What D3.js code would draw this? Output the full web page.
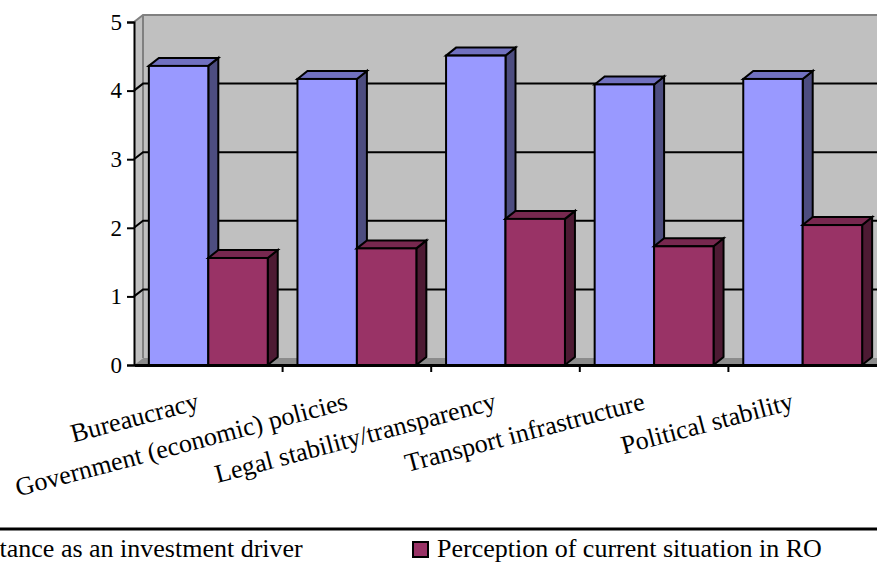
<!DOCTYPE html>
<html>
<head>
<meta charset="utf-8">
<script src="https://cdn.jsdelivr.net/npm/d3@7"></script>
<style>
  html, body { margin: 0; padding: 0; background: #fff; overflow: hidden; }
  svg { display: block; }
  text { font-family: "Liberation Serif", "Times New Roman", serif; fill: #000; }
</style>
</head>
<body>
<svg id="chart" width="877" height="569"></svg>
<script>
// Factors and their two scores
const categories = [
  "Bureaucracy",
  "Government (economic) policies",
  "Legal stability/transparency",
  "Transport infrastructure",
  "Political stability"
];
const seriesNames = [
  "Importance as an investment driver",
  "Perception of current situation in RO"
];
const importance = [4.36, 4.17, 4.51, 4.09, 4.17];
const perception = [1.56, 1.70, 2.13, 1.73, 2.04];
const yTicks = [0, 1, 2, 3, 4, 5];

// Face colours for each series: front, top, side
const palette = [
  { front: "#9999FF", top: "#7171C0", side: "#4D4D80" },
  { front: "#993366", top: "#77284F", side: "#4D1A33" }
];

const svg = d3.select("#chart");

// Plot frame
const plotLeft = 134, plotRight = 877, plotTop = 22, plotBottom = 365;
const wallDx = 9, wallDy = -7;     // depth of the walls
const barDx = 10, barDy = -8;      // depth of the bars

const y = d3.scaleLinear().domain([0, 5]).range([plotBottom, plotTop]);
const x = d3.scaleBand().domain(categories).range([plotLeft, plotRight]).padding(0);
const inner = d3.scaleBand().domain(seriesNames)
  .range([0, x.bandwidth()]).paddingInner(0).paddingOuter(0.25);

const wall = svg.append("g");

// side wall on the left
wall.append("polygon")
  .attr("points", [[plotLeft, plotBottom], [plotLeft, y(5)], [plotLeft + wallDx, y(5) + wallDy], [plotLeft + wallDx, plotBottom + wallDy]].join(" "))
  .attr("fill", "#C0C0C0");

// back wall
wall.append("rect")
  .attr("x", plotLeft + wallDx).attr("y", y(5) + wallDy)
  .attr("width", plotRight - plotLeft).attr("height", plotBottom - y(5))
  .attr("fill", "#C0C0C0");

// floor
wall.append("polygon")
  .attr("points", [[plotLeft, plotBottom], [plotLeft + wallDx, plotBottom + wallDy], [plotRight + 20, plotBottom + wallDy], [plotRight + 20, plotBottom]].join(" "))
  .attr("fill", "#8C8C8C");

// wall edges
wall.append("polyline")
  .attr("points", [[plotLeft, y(5)], [plotLeft + wallDx, y(5) + wallDy], [plotRight + 20, y(5) + wallDy]].join(" "))
  .attr("fill", "none").attr("stroke", "#808080").attr("stroke-width", 2);
wall.append("line")
  .attr("x1", plotLeft + wallDx).attr("x2", plotLeft + wallDx)
  .attr("y1", y(5) + wallDy).attr("y2", plotBottom + wallDy)
  .attr("stroke", "#808080").attr("stroke-width", 2);

// gridlines on the side and back walls
const grid = svg.append("g");
yTicks.filter(t => t > 0 && t < 5).forEach(t => {
  grid.append("polyline")
    .attr("points", [[plotLeft, y(t)], [plotLeft + wallDx, y(t) + wallDy], [plotRight + 20, y(t) + wallDy]].join(" "))
    .attr("fill", "none").attr("stroke", "#000").attr("stroke-width", 2);
});

// bars: front face, top and right side
const bars = svg.append("g").attr("stroke", "#000").attr("stroke-width", 2).attr("stroke-linejoin", "miter");
const values = [importance, perception];
categories.forEach((c, i) => {
  seriesNames.forEach((s, k) => {
    const v = values[k][i];
    const x0 = x(c) + inner(s);
    const x1 = x0 + inner.bandwidth();
    const yTop = y(v), yBase = y(0);
    const col = palette[k];
    const g = bars.append("g");
    g.append("polygon")
      .attr("points", [[x1, yBase], [x1, yTop], [x1 + barDx, yTop + barDy], [x1 + barDx, yBase + barDy]].join(" "))
      .attr("fill", col.side);
    g.append("polygon")
      .attr("points", [[x0, yTop], [x0 + barDx, yTop + barDy], [x1 + barDx, yTop + barDy], [x1, yTop]].join(" "))
      .attr("fill", col.top);
    g.append("rect")
      .attr("x", x0).attr("y", yTop)
      .attr("width", x1 - x0).attr("height", yBase - yTop)
      .attr("fill", col.front);
  });
});

// value axis
const yAxis = svg.append("g")
  .attr("transform", `translate(${plotLeft},0)`)
  .call(d3.axisLeft(y).tickValues(yTicks).tickSize(7).tickPadding(5).tickFormat(d3.format("d")));
yAxis.select(".domain").attr("stroke", "#000").attr("stroke-width", 2);
yAxis.selectAll(".tick line").attr("stroke", "#000").attr("stroke-width", 2);
yAxis.selectAll("text")
  .style("font-family", '"Liberation Serif", "Times New Roman", serif')
  .style("font-size", "23px").attr("fill", "#000");

// category axis
const xAxis = svg.append("g")
  .attr("transform", `translate(0,${plotBottom})`)
  .call(d3.axisBottom(x).tickSize(0).tickFormat(""));
xAxis.select(".domain").attr("stroke", "#000").attr("stroke-width", 3);
xAxis.selectAll(".tick").remove();
const bounds = categories.map(c => x(c)).slice(1);
xAxis.selectAll("line.sep").data(bounds).enter().append("line")
  .attr("class", "sep")
  .attr("x1", d => d).attr("x2", d => d)
  .attr("y1", 0).attr("y2", 7)
  .attr("stroke", "#000").attr("stroke-width", 2);

// slanted category labels
svg.append("g").selectAll("text").data(categories).enter().append("text")
  .attr("transform", d => `translate(${x(d) + x.bandwidth() / 2 - 8},409) rotate(-14.8)`)
  .attr("text-anchor", "end")
  .style("font-size", "26px")
  .text(d => d);

// legend
const legend = svg.append("g");
legend.append("line")
  .attr("x1", 0).attr("x2", 877).attr("y1", 529).attr("y2", 529)
  .attr("stroke", "#000").attr("stroke-width", 3);
const legendX = [-89, 412];
seriesNames.forEach((s, k) => {
  legend.append("rect")
    .attr("x", legendX[k] + 1).attr("y", 542)
    .attr("width", 15).attr("height", 15)
    .attr("fill", palette[k].front)
    .attr("stroke", "#000").attr("stroke-width", 2);
  legend.append("text")
    .attr("x", legendX[k] + 25).attr("y", 557)
    .style("font-size", "26px")
    .text(s);
});
</script>
</body>
</html>
